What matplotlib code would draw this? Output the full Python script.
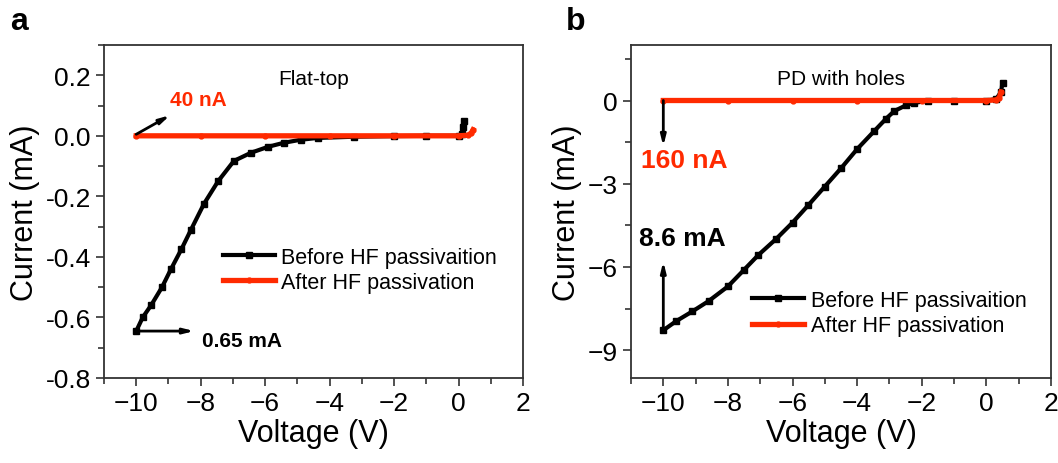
import matplotlib.pyplot as plt
from matplotlib.ticker import MultipleLocator

plt.rcParams['font.family'] = ['Liberation Sans', 'DejaVu Sans']

# panel a: flat-top
v_before_a = [-10.0, -9.8, -9.54, -9.2, -8.92, -8.6, -8.3, -7.9, -7.46, -6.97, -6.44,
              -5.9, -5.42, -4.9, -4.37, -3.25, -2.0, -1.0, 0.0, 0.1, 0.15, 0.16]
i_before_a = [-0.645, -0.60, -0.56, -0.50, -0.44, -0.375, -0.31, -0.225, -0.15, -0.083, -0.056,
              -0.036, -0.023, -0.013, -0.007, -0.003, -0.001, 0.0, 0.0, 0.005, 0.03, 0.05]
v_after_a = [-10.0, -8.0, -6.0, -4.0, -2.0, 0.0, 0.3, 0.4, 0.45]
i_after_a = [0.0, 0.0, 0.0, 0.0, 0.0, 0.0, 0.002, 0.01, 0.02]

# panel b: PD with holes
v_before_b = [-10.0, -9.6, -9.1, -8.6, -8.0, -7.5, -7.06, -6.5, -6.0, -5.51, -5.0,
              -4.49, -4.0, -3.47, -3.1, -2.85, -2.5, -2.23, -1.8, -1.0, 0.0, 0.3, 0.45, 0.5]
i_before_b = [-8.28, -7.95, -7.6, -7.23, -6.7, -6.1, -5.57, -4.98, -4.4, -3.77, -3.1,
              -2.43, -1.75, -1.10, -0.65, -0.38, -0.18, -0.08, -0.02, 0.0, 0.0, 0.05, 0.3, 0.64]
v_after_b = [-10.0, -8.0, -6.0, -4.0, -2.0, 0.0, 0.3, 0.4, 0.45]
i_after_b = [0.0, 0.0, 0.0, 0.0, 0.0, 0.0, 0.02, 0.1, 0.3]

red = '#ff2a00'
fig = plt.figure(figsize=(10.58, 4.64), dpi=100)
ax1 = fig.add_axes([104 / 1058, 1 - 379 / 464, 419 / 1058, 333 / 464])
ax2 = fig.add_axes([631 / 1058, 1 - 379 / 464, 420 / 1058, 333 / 464])


def style_axes(ax):
    for s in ax.spines.values():
        s.set_color('#333333')
        s.set_linewidth(1.3)
    ax.tick_params(which='both', direction='out', labelsize=19, width=1.2, color='#333333')
    ax.tick_params(which='major', length=6)
    ax.tick_params(which='minor', length=4)
    ax.set_xlim(-11, 2)
    ax.xaxis.set_major_locator(MultipleLocator(2))
    ax.xaxis.set_minor_locator(MultipleLocator(1))
    ax.set_xlabel('Voltage (V)', fontsize=22, labelpad=2)
    ax.set_ylabel('Current (mA)', fontsize=22, labelpad=4)


def draw_curves(ax, vb, ib, va, ia):
    ax.plot(vb, ib, color='black', lw=3, marker='s', ms=4, label='Before HF passivaition')
    ax.plot(va, ia, color=red, lw=3.8, marker='o', ms=3.5, label='After HF passivation')


arrow = dict(arrowstyle='-|>,head_length=0.6,head_width=0.15', color='black', lw=2,
             shrinkA=0, shrinkB=0)

# panel a
draw_curves(ax1, v_before_a, i_before_a, v_after_a, i_after_a)
style_axes(ax1)
ax1.set_ylim(-0.8, 0.3)
ax1.yaxis.set_major_locator(MultipleLocator(0.2))
ax1.yaxis.set_minor_locator(MultipleLocator(0.1))
ax1.yaxis.set_major_formatter(lambda y, pos: f'{y:.1f}')
ax1.text(0.5, 0.9, 'Flat-top', transform=ax1.transAxes, ha='center', va='center', fontsize=15)
ax1.annotate('', xy=(-8.95, 0.068), xytext=(-10.0, 0.005), arrowprops=arrow)
ax1.text(-8.95, 0.12, '40 nA', color=red, fontsize=15, fontweight='bold', va='center')
ax1.annotate('', xy=(-8.2, -0.645), xytext=(-10.0, -0.645), arrowprops=arrow)
ax1.text(-7.96, -0.675, '0.65 mA', color='black', fontsize=15, fontweight='bold', va='center')
ax1.legend(loc='center left', bbox_to_anchor=(0.284, 0.325), frameon=False, fontsize=15.5,
           handlelength=2.4, handletextpad=0.3, labelspacing=0.2, borderpad=0,
           borderaxespad=0)
fig.text(10 / 1058, 1 - 22 / 464, 'a', fontsize=23, fontweight='bold', va='center')

# panel b
draw_curves(ax2, v_before_b, i_before_b, v_after_b, i_after_b)
style_axes(ax2)
ax2.set_ylim(-10, 2)
ax2.yaxis.set_major_locator(MultipleLocator(3))
ax2.yaxis.set_minor_locator(MultipleLocator(1.5))
ax2.text(0.5, 0.9, 'PD with holes', transform=ax2.transAxes, ha='center', va='center', fontsize=15)
ax2.annotate('', xy=(-10.0, -1.65), xytext=(-10.0, 0.0), arrowprops=arrow)
ax2.text(-10.7, -2.15, '160 nA', color=red, fontsize=19, fontweight='bold', va='center')
ax2.annotate('', xy=(-10.0, -5.8), xytext=(-10.0, -8.28), arrowprops=arrow)
ax2.text(-10.74, -4.96, '8.6 mA', color='black', fontsize=19, fontweight='bold', va='center')
ax2.legend(loc='center left', bbox_to_anchor=(0.289, 0.195), frameon=False, fontsize=15.5,
           handlelength=2.4, handletextpad=0.3, labelspacing=0.2, borderpad=0,
           borderaxespad=0)
fig.text(566 / 1058, 1 - 22 / 464, 'b', fontsize=23, fontweight='bold', va='center')

fig.savefig('out.png', dpi=100)
